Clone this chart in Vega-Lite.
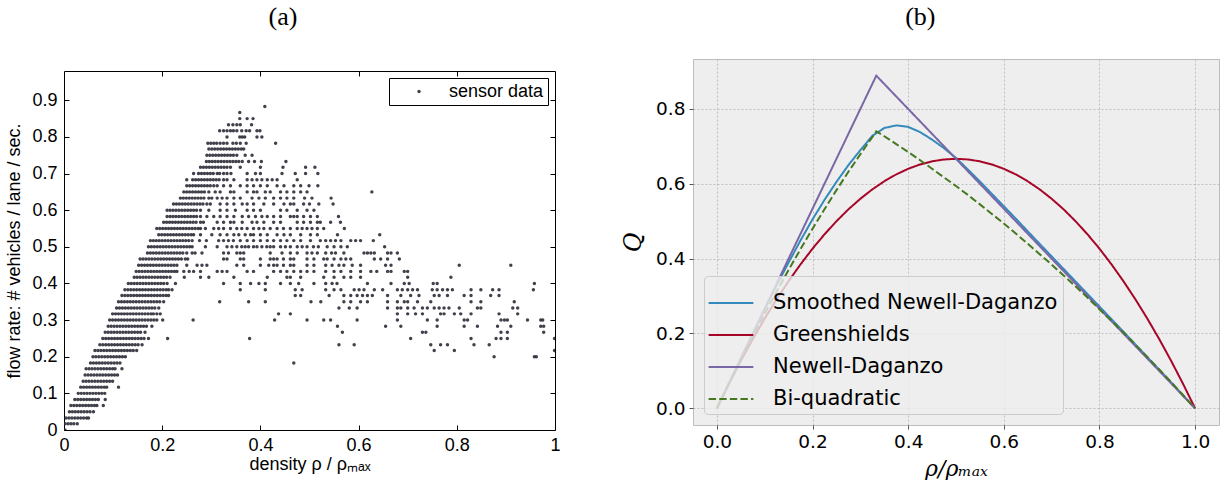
{
  "$schema": "https://vega.github.io/schema/vega-lite/v6.json",
  "background": "white",
  "padding": {"left": 5, "top": 3, "right": 4, "bottom": 0},
  "spacing": 60,
  "config": {"title": {"font": "Liberation Serif", "fontSize": 26, "fontWeight": "normal", "color": "#000"}},
  "resolve": {"scale": {"color": "independent", "strokeDash": "independent"}, "legend": {"color": "independent", "strokeDash": "independent"}},
  "datasets": {
    "sensor": [
      {"d":0.002,"q":0},
      {"d":0.002,"q":0.017},{"d":0.008,"q":0.017},{"d":0.014,"q":0.017},{"d":0.02,"q":0.017},{"d":0.027,"q":0.017},
      {"d":0.004,"q":0.033},{"d":0.01,"q":0.033},{"d":0.016,"q":0.033},{"d":0.022,"q":0.033},{"d":0.028,"q":0.033},{"d":0.034,"q":0.033},{"d":0.04,"q":0.033},{"d":0.046,"q":0.033},{"d":0.05,"q":0.033},
      {"d":0.011,"q":0.05},{"d":0.017,"q":0.05},{"d":0.023,"q":0.05},{"d":0.029,"q":0.05},{"d":0.035,"q":0.05},{"d":0.041,"q":0.05},{"d":0.047,"q":0.05},{"d":0.053,"q":0.05},{"d":0.06,"q":0.05},
      {"d":0.014,"q":0.067},{"d":0.02,"q":0.067},{"d":0.026,"q":0.067},{"d":0.032,"q":0.067},{"d":0.038,"q":0.067},{"d":0.044,"q":0.067},{"d":0.05,"q":0.067},{"d":0.056,"q":0.067},{"d":0.062,"q":0.067},{"d":0.067,"q":0.067},{"d":0.08,"q":0.067},
      {"d":0.022,"q":0.083},{"d":0.028,"q":0.083},{"d":0.034,"q":0.083},{"d":0.04,"q":0.083},{"d":0.046,"q":0.083},{"d":0.052,"q":0.083},{"d":0.058,"q":0.083},{"d":0.064,"q":0.083},{"d":0.07,"q":0.083},{"d":0.084,"q":0.083},
      {"d":0.029,"q":0.1},{"d":0.035,"q":0.1},{"d":0.041,"q":0.1},{"d":0.047,"q":0.1},{"d":0.053,"q":0.1},{"d":0.059,"q":0.1},{"d":0.065,"q":0.1},{"d":0.071,"q":0.1},{"d":0.077,"q":0.1},{"d":0.083,"q":0.1},
      {"d":0.034,"q":0.117},{"d":0.04,"q":0.117},{"d":0.046,"q":0.117},{"d":0.052,"q":0.117},{"d":0.058,"q":0.117},{"d":0.064,"q":0.117},{"d":0.07,"q":0.117},{"d":0.076,"q":0.117},{"d":0.082,"q":0.117},{"d":0.087,"q":0.117},{"d":0.111,"q":0.117},
      {"d":0.039,"q":0.133},{"d":0.045,"q":0.133},{"d":0.051,"q":0.133},{"d":0.057,"q":0.133},{"d":0.063,"q":0.133},{"d":0.069,"q":0.133},{"d":0.075,"q":0.133},{"d":0.081,"q":0.133},{"d":0.087,"q":0.133},{"d":0.093,"q":0.133},{"d":0.099,"q":0.133},
      {"d":0.043,"q":0.15},{"d":0.049,"q":0.15},{"d":0.055,"q":0.15},{"d":0.061,"q":0.15},{"d":0.067,"q":0.15},{"d":0.073,"q":0.15},{"d":0.079,"q":0.15},{"d":0.085,"q":0.15},{"d":0.091,"q":0.15},{"d":0.097,"q":0.15},{"d":0.103,"q":0.15},{"d":0.109,"q":0.15},
      {"d":0.045,"q":0.167},{"d":0.051,"q":0.167},{"d":0.057,"q":0.167},{"d":0.063,"q":0.167},{"d":0.069,"q":0.167},{"d":0.075,"q":0.167},{"d":0.081,"q":0.167},{"d":0.087,"q":0.167},{"d":0.093,"q":0.167},{"d":0.099,"q":0.167},{"d":0.104,"q":0.167},{"d":0.118,"q":0.167},
      {"d":0.054,"q":0.183},{"d":0.06,"q":0.183},{"d":0.066,"q":0.183},{"d":0.072,"q":0.183},{"d":0.078,"q":0.183},{"d":0.084,"q":0.183},{"d":0.09,"q":0.183},{"d":0.096,"q":0.183},{"d":0.102,"q":0.183},{"d":0.108,"q":0.183},{"d":0.114,"q":0.183},{"d":0.468,"q":0.183},
      {"d":0.059,"q":0.2},{"d":0.065,"q":0.2},{"d":0.071,"q":0.2},{"d":0.077,"q":0.2},{"d":0.083,"q":0.2},{"d":0.089,"q":0.2},{"d":0.095,"q":0.2},{"d":0.101,"q":0.2},{"d":0.107,"q":0.2},{"d":0.113,"q":0.2},{"d":0.119,"q":0.2},{"d":0.125,"q":0.2},{"d":0.876,"q":0.2},{"d":0.958,"q":0.2},{"d":0.962,"q":0.2},
      {"d":0.063,"q":0.217},{"d":0.069,"q":0.217},{"d":0.075,"q":0.217},{"d":0.081,"q":0.217},{"d":0.087,"q":0.217},{"d":0.093,"q":0.217},{"d":0.099,"q":0.217},{"d":0.105,"q":0.217},{"d":0.111,"q":0.217},{"d":0.117,"q":0.217},{"d":0.123,"q":0.217},{"d":0.129,"q":0.217},{"d":0.135,"q":0.217},{"d":0.141,"q":0.217},{"d":0.148,"q":0.217},{"d":0.754,"q":0.217},{"d":0.795,"q":0.217},{"d":0.999,"q":0.217},
      {"d":0.073,"q":0.233},{"d":0.079,"q":0.233},{"d":0.085,"q":0.233},{"d":0.091,"q":0.233},{"d":0.097,"q":0.233},{"d":0.103,"q":0.233},{"d":0.109,"q":0.233},{"d":0.115,"q":0.233},{"d":0.121,"q":0.233},{"d":0.127,"q":0.233},{"d":0.133,"q":0.233},{"d":0.139,"q":0.233},{"d":0.145,"q":0.233},{"d":0.151,"q":0.233},{"d":0.159,"q":0.233},{"d":0.56,"q":0.233},{"d":0.591,"q":0.233},{"d":0.747,"q":0.233},{"d":0.767,"q":0.233},{"d":0.781,"q":0.233},{"d":0.835,"q":0.233},{"d":0.866,"q":0.233},
      {"d":0.079,"q":0.25},{"d":0.085,"q":0.25},{"d":0.091,"q":0.25},{"d":0.097,"q":0.25},{"d":0.103,"q":0.25},{"d":0.109,"q":0.25},{"d":0.115,"q":0.25},{"d":0.121,"q":0.25},{"d":0.127,"q":0.25},{"d":0.133,"q":0.25},{"d":0.139,"q":0.25},{"d":0.145,"q":0.25},{"d":0.151,"q":0.25},{"d":0.157,"q":0.25},{"d":0.163,"q":0.25},{"d":0.172,"q":0.25},{"d":0.211,"q":0.25},{"d":0.378,"q":0.25},{"d":0.706,"q":0.25},{"d":0.829,"q":0.25},{"d":0.88,"q":0.25},{"d":0.89,"q":0.25},{"d":0.903,"q":0.25},{"d":0.999,"q":0.25},
      {"d":0.084,"q":0.267},{"d":0.09,"q":0.267},{"d":0.096,"q":0.267},{"d":0.102,"q":0.267},{"d":0.108,"q":0.267},{"d":0.114,"q":0.267},{"d":0.12,"q":0.267},{"d":0.126,"q":0.267},{"d":0.132,"q":0.267},{"d":0.138,"q":0.267},{"d":0.144,"q":0.267},{"d":0.15,"q":0.267},{"d":0.156,"q":0.267},{"d":0.165,"q":0.267},{"d":0.567,"q":0.267},{"d":0.73,"q":0.267},{"d":0.737,"q":0.267},{"d":0.89,"q":0.267},{"d":0.903,"q":0.267},{"d":0.977,"q":0.267},
      {"d":0.09,"q":0.283},{"d":0.096,"q":0.283},{"d":0.102,"q":0.283},{"d":0.108,"q":0.283},{"d":0.114,"q":0.283},{"d":0.12,"q":0.283},{"d":0.126,"q":0.283},{"d":0.132,"q":0.283},{"d":0.138,"q":0.283},{"d":0.144,"q":0.283},{"d":0.15,"q":0.283},{"d":0.156,"q":0.283},{"d":0.162,"q":0.283},{"d":0.168,"q":0.283},{"d":0.179,"q":0.283},{"d":0.557,"q":0.283},{"d":0.655,"q":0.283},{"d":0.686,"q":0.283},{"d":0.76,"q":0.283},{"d":0.815,"q":0.283},{"d":0.842,"q":0.283},{"d":0.883,"q":0.283},{"d":0.91,"q":0.283},{"d":0.971,"q":0.283},{"d":0.977,"q":0.283},
      {"d":0.093,"q":0.3},{"d":0.099,"q":0.3},{"d":0.105,"q":0.3},{"d":0.111,"q":0.3},{"d":0.117,"q":0.3},{"d":0.123,"q":0.3},{"d":0.129,"q":0.3},{"d":0.135,"q":0.3},{"d":0.141,"q":0.3},{"d":0.147,"q":0.3},{"d":0.153,"q":0.3},{"d":0.159,"q":0.3},{"d":0.165,"q":0.3},{"d":0.171,"q":0.3},{"d":0.177,"q":0.3},{"d":0.183,"q":0.3},{"d":0.189,"q":0.3},{"d":0.201,"q":0.3},{"d":0.263,"q":0.3},{"d":0.429,"q":0.3},{"d":0.495,"q":0.3},{"d":0.529,"q":0.3},{"d":0.543,"q":0.3},{"d":0.597,"q":0.3},{"d":0.679,"q":0.3},{"d":0.74,"q":0.3},{"d":0.76,"q":0.3},{"d":0.815,"q":0.3},{"d":0.822,"q":0.3},{"d":0.89,"q":0.3},{"d":0.897,"q":0.3},{"d":0.903,"q":0.3},{"d":0.944,"q":0.3},{"d":0.971,"q":0.3},{"d":0.975,"q":0.3},
      {"d":0.099,"q":0.317},{"d":0.105,"q":0.317},{"d":0.111,"q":0.317},{"d":0.117,"q":0.317},{"d":0.123,"q":0.317},{"d":0.129,"q":0.317},{"d":0.135,"q":0.317},{"d":0.141,"q":0.317},{"d":0.147,"q":0.317},{"d":0.153,"q":0.317},{"d":0.159,"q":0.317},{"d":0.165,"q":0.317},{"d":0.171,"q":0.317},{"d":0.177,"q":0.317},{"d":0.182,"q":0.317},{"d":0.189,"q":0.317},{"d":0.196,"q":0.317},{"d":0.437,"q":0.317},{"d":0.461,"q":0.317},{"d":0.679,"q":0.317},{"d":0.7,"q":0.317},{"d":0.716,"q":0.317},{"d":0.73,"q":0.317},{"d":0.767,"q":0.317},{"d":0.774,"q":0.317},{"d":0.795,"q":0.317},{"d":0.808,"q":0.317},{"d":0.829,"q":0.317},{"d":0.886,"q":0.317},{"d":0.924,"q":0.317},
      {"d":0.107,"q":0.333},{"d":0.113,"q":0.333},{"d":0.119,"q":0.333},{"d":0.125,"q":0.333},{"d":0.131,"q":0.333},{"d":0.137,"q":0.333},{"d":0.143,"q":0.333},{"d":0.149,"q":0.333},{"d":0.155,"q":0.333},{"d":0.161,"q":0.333},{"d":0.167,"q":0.333},{"d":0.173,"q":0.333},{"d":0.179,"q":0.333},{"d":0.185,"q":0.333},{"d":0.193,"q":0.333},{"d":0.56,"q":0.333},{"d":0.581,"q":0.333},{"d":0.597,"q":0.333},{"d":0.659,"q":0.333},{"d":0.679,"q":0.333},{"d":0.686,"q":0.333},{"d":0.7,"q":0.333},{"d":0.713,"q":0.333},{"d":0.73,"q":0.333},{"d":0.74,"q":0.333},{"d":0.754,"q":0.333},{"d":0.764,"q":0.333},{"d":0.774,"q":0.333},{"d":0.784,"q":0.333},{"d":0.805,"q":0.333},{"d":0.842,"q":0.333},{"d":0.849,"q":0.333},{"d":0.914,"q":0.333},{"d":0.924,"q":0.333},
      {"d":0.111,"q":0.35},{"d":0.117,"q":0.35},{"d":0.123,"q":0.35},{"d":0.129,"q":0.35},{"d":0.135,"q":0.35},{"d":0.141,"q":0.35},{"d":0.147,"q":0.35},{"d":0.153,"q":0.35},{"d":0.159,"q":0.35},{"d":0.165,"q":0.35},{"d":0.171,"q":0.35},{"d":0.177,"q":0.35},{"d":0.183,"q":0.35},{"d":0.189,"q":0.35},{"d":0.195,"q":0.35},{"d":0.203,"q":0.35},{"d":0.317,"q":0.35},{"d":0.376,"q":0.35},{"d":0.41,"q":0.35},{"d":0.503,"q":0.35},{"d":0.523,"q":0.35},{"d":0.57,"q":0.35},{"d":0.584,"q":0.35},{"d":0.604,"q":0.35},{"d":0.618,"q":0.35},{"d":0.659,"q":0.35},{"d":0.679,"q":0.35},{"d":0.693,"q":0.35},{"d":0.7,"q":0.35},{"d":0.72,"q":0.35},{"d":0.747,"q":0.35},{"d":0.829,"q":0.35},{"d":0.849,"q":0.35},{"d":0.917,"q":0.35},
      {"d":0.118,"q":0.367},{"d":0.124,"q":0.367},{"d":0.13,"q":0.367},{"d":0.136,"q":0.367},{"d":0.142,"q":0.367},{"d":0.148,"q":0.367},{"d":0.154,"q":0.367},{"d":0.16,"q":0.367},{"d":0.166,"q":0.367},{"d":0.172,"q":0.367},{"d":0.178,"q":0.367},{"d":0.184,"q":0.367},{"d":0.19,"q":0.367},{"d":0.196,"q":0.367},{"d":0.202,"q":0.367},{"d":0.208,"q":0.367},{"d":0.213,"q":0.367},{"d":0.471,"q":0.367},{"d":0.482,"q":0.367},{"d":0.54,"q":0.367},{"d":0.57,"q":0.367},{"d":0.584,"q":0.367},{"d":0.597,"q":0.367},{"d":0.608,"q":0.367},{"d":0.618,"q":0.367},{"d":0.628,"q":0.367},{"d":0.659,"q":0.367},{"d":0.686,"q":0.367},{"d":0.706,"q":0.367},{"d":0.723,"q":0.367},{"d":0.754,"q":0.367},{"d":0.764,"q":0.367},{"d":0.781,"q":0.367},{"d":0.815,"q":0.367},{"d":0.829,"q":0.367},{"d":0.869,"q":0.367},{"d":0.886,"q":0.367},
      {"d":0.124,"q":0.383},{"d":0.13,"q":0.383},{"d":0.136,"q":0.383},{"d":0.142,"q":0.383},{"d":0.148,"q":0.383},{"d":0.154,"q":0.383},{"d":0.16,"q":0.383},{"d":0.166,"q":0.383},{"d":0.172,"q":0.383},{"d":0.178,"q":0.383},{"d":0.184,"q":0.383},{"d":0.19,"q":0.383},{"d":0.196,"q":0.383},{"d":0.202,"q":0.383},{"d":0.208,"q":0.383},{"d":0.213,"q":0.383},{"d":0.22,"q":0.383},{"d":0.359,"q":0.383},{"d":0.41,"q":0.383},{"d":0.471,"q":0.383},{"d":0.485,"q":0.383},{"d":0.533,"q":0.383},{"d":0.55,"q":0.383},{"d":0.564,"q":0.383},{"d":0.591,"q":0.383},{"d":0.601,"q":0.383},{"d":0.611,"q":0.383},{"d":0.632,"q":0.383},{"d":0.649,"q":0.383},{"d":0.679,"q":0.383},{"d":0.689,"q":0.383},{"d":0.7,"q":0.383},{"d":0.71,"q":0.383},{"d":0.72,"q":0.383},{"d":0.75,"q":0.383},{"d":0.76,"q":0.383},{"d":0.771,"q":0.383},{"d":0.781,"q":0.383},{"d":0.791,"q":0.383},{"d":0.829,"q":0.383},{"d":0.849,"q":0.383},{"d":0.873,"q":0.383},{"d":0.886,"q":0.383},{"d":0.956,"q":0.383},
      {"d":0.131,"q":0.4},{"d":0.137,"q":0.4},{"d":0.143,"q":0.4},{"d":0.149,"q":0.4},{"d":0.155,"q":0.4},{"d":0.161,"q":0.4},{"d":0.167,"q":0.4},{"d":0.173,"q":0.4},{"d":0.179,"q":0.4},{"d":0.185,"q":0.4},{"d":0.191,"q":0.4},{"d":0.197,"q":0.4},{"d":0.203,"q":0.4},{"d":0.21,"q":0.4},{"d":0.227,"q":0.4},{"d":0.325,"q":0.4},{"d":0.359,"q":0.4},{"d":0.38,"q":0.4},{"d":0.397,"q":0.4},{"d":0.41,"q":0.4},{"d":0.441,"q":0.4},{"d":0.461,"q":0.4},{"d":0.478,"q":0.4},{"d":0.509,"q":0.4},{"d":0.533,"q":0.4},{"d":0.546,"q":0.4},{"d":0.556,"q":0.4},{"d":0.618,"q":0.4},{"d":0.666,"q":0.4},{"d":0.693,"q":0.4},{"d":0.703,"q":0.4},{"d":0.752,"q":0.4},{"d":0.76,"q":0.4},{"d":0.958,"q":0.4},
      {"d":0.143,"q":0.417},{"d":0.149,"q":0.417},{"d":0.155,"q":0.417},{"d":0.161,"q":0.417},{"d":0.167,"q":0.417},{"d":0.173,"q":0.417},{"d":0.179,"q":0.417},{"d":0.185,"q":0.417},{"d":0.191,"q":0.417},{"d":0.197,"q":0.417},{"d":0.203,"q":0.417},{"d":0.209,"q":0.417},{"d":0.216,"q":0.417},{"d":0.245,"q":0.417},{"d":0.278,"q":0.417},{"d":0.295,"q":0.417},{"d":0.346,"q":0.417},{"d":0.414,"q":0.417},{"d":0.454,"q":0.417},{"d":0.461,"q":0.417},{"d":0.482,"q":0.417},{"d":0.529,"q":0.417},{"d":0.55,"q":0.417},{"d":0.57,"q":0.417},{"d":0.584,"q":0.417},{"d":0.604,"q":0.417},{"d":0.7,"q":0.417},{"d":0.788,"q":0.417},
      {"d":0.147,"q":0.433},{"d":0.153,"q":0.433},{"d":0.159,"q":0.433},{"d":0.165,"q":0.433},{"d":0.171,"q":0.433},{"d":0.177,"q":0.433},{"d":0.183,"q":0.433},{"d":0.189,"q":0.433},{"d":0.195,"q":0.433},{"d":0.201,"q":0.433},{"d":0.207,"q":0.433},{"d":0.213,"q":0.433},{"d":0.219,"q":0.433},{"d":0.225,"q":0.433},{"d":0.23,"q":0.433},{"d":0.244,"q":0.433},{"d":0.255,"q":0.433},{"d":0.264,"q":0.433},{"d":0.278,"q":0.433},{"d":0.312,"q":0.433},{"d":0.322,"q":0.433},{"d":0.332,"q":0.433},{"d":0.373,"q":0.433},{"d":0.386,"q":0.433},{"d":0.427,"q":0.433},{"d":0.441,"q":0.433},{"d":0.454,"q":0.433},{"d":0.468,"q":0.433},{"d":0.482,"q":0.433},{"d":0.495,"q":0.433},{"d":0.509,"q":0.433},{"d":0.533,"q":0.433},{"d":0.55,"q":0.433},{"d":0.564,"q":0.433},{"d":0.584,"q":0.433},{"d":0.604,"q":0.433},{"d":0.625,"q":0.433},{"d":0.637,"q":0.433},{"d":0.659,"q":0.433},{"d":0.666,"q":0.433},{"d":0.693,"q":0.433},{"d":0.7,"q":0.433},
      {"d":0.152,"q":0.45},{"d":0.158,"q":0.45},{"d":0.164,"q":0.45},{"d":0.17,"q":0.45},{"d":0.176,"q":0.45},{"d":0.182,"q":0.45},{"d":0.188,"q":0.45},{"d":0.194,"q":0.45},{"d":0.2,"q":0.45},{"d":0.206,"q":0.45},{"d":0.212,"q":0.45},{"d":0.218,"q":0.45},{"d":0.224,"q":0.45},{"d":0.23,"q":0.45},{"d":0.25,"q":0.45},{"d":0.271,"q":0.45},{"d":0.281,"q":0.45},{"d":0.291,"q":0.45},{"d":0.352,"q":0.45},{"d":0.366,"q":0.45},{"d":0.4,"q":0.45},{"d":0.417,"q":0.45},{"d":0.427,"q":0.45},{"d":0.434,"q":0.45},{"d":0.447,"q":0.45},{"d":0.461,"q":0.45},{"d":0.468,"q":0.45},{"d":0.495,"q":0.45},{"d":0.509,"q":0.45},{"d":0.533,"q":0.45},{"d":0.546,"q":0.45},{"d":0.56,"q":0.45},{"d":0.57,"q":0.45},{"d":0.587,"q":0.45},{"d":0.604,"q":0.45},{"d":0.655,"q":0.45},{"d":0.666,"q":0.45},{"d":0.805,"q":0.45},{"d":0.91,"q":0.45},
      {"d":0.155,"q":0.467},{"d":0.161,"q":0.467},{"d":0.167,"q":0.467},{"d":0.173,"q":0.467},{"d":0.179,"q":0.467},{"d":0.185,"q":0.467},{"d":0.191,"q":0.467},{"d":0.197,"q":0.467},{"d":0.203,"q":0.467},{"d":0.209,"q":0.467},{"d":0.215,"q":0.467},{"d":0.221,"q":0.467},{"d":0.227,"q":0.467},{"d":0.233,"q":0.467},{"d":0.239,"q":0.467},{"d":0.247,"q":0.467},{"d":0.252,"q":0.467},{"d":0.325,"q":0.467},{"d":0.332,"q":0.467},{"d":0.359,"q":0.467},{"d":0.366,"q":0.467},{"d":0.4,"q":0.467},{"d":0.42,"q":0.467},{"d":0.427,"q":0.467},{"d":0.434,"q":0.467},{"d":0.447,"q":0.467},{"d":0.461,"q":0.467},{"d":0.468,"q":0.467},{"d":0.495,"q":0.467},{"d":0.509,"q":0.467},{"d":0.529,"q":0.467},{"d":0.536,"q":0.467},{"d":0.55,"q":0.467},{"d":0.564,"q":0.467},{"d":0.574,"q":0.467},{"d":0.584,"q":0.467},{"d":0.632,"q":0.467},{"d":0.645,"q":0.467},{"d":0.659,"q":0.467},{"d":0.683,"q":0.467},
      {"d":0.17,"q":0.483},{"d":0.176,"q":0.483},{"d":0.182,"q":0.483},{"d":0.188,"q":0.483},{"d":0.194,"q":0.483},{"d":0.2,"q":0.483},{"d":0.206,"q":0.483},{"d":0.212,"q":0.483},{"d":0.218,"q":0.483},{"d":0.224,"q":0.483},{"d":0.23,"q":0.483},{"d":0.236,"q":0.483},{"d":0.242,"q":0.483},{"d":0.25,"q":0.483},{"d":0.261,"q":0.483},{"d":0.267,"q":0.483},{"d":0.281,"q":0.483},{"d":0.325,"q":0.483},{"d":0.335,"q":0.483},{"d":0.352,"q":0.483},{"d":0.359,"q":0.483},{"d":0.366,"q":0.483},{"d":0.42,"q":0.483},{"d":0.444,"q":0.483},{"d":0.461,"q":0.483},{"d":0.475,"q":0.483},{"d":0.495,"q":0.483},{"d":0.505,"q":0.483},{"d":0.516,"q":0.483},{"d":0.533,"q":0.483},{"d":0.545,"q":0.483},{"d":0.553,"q":0.483},{"d":0.57,"q":0.483},{"d":0.611,"q":0.483},{"d":0.618,"q":0.483},{"d":0.625,"q":0.483},{"d":0.632,"q":0.483},{"d":0.659,"q":0.483},{"d":0.666,"q":0.483},{"d":0.679,"q":0.483},
      {"d":0.172,"q":0.5},{"d":0.178,"q":0.5},{"d":0.184,"q":0.5},{"d":0.19,"q":0.5},{"d":0.196,"q":0.5},{"d":0.202,"q":0.5},{"d":0.208,"q":0.5},{"d":0.214,"q":0.5},{"d":0.22,"q":0.5},{"d":0.226,"q":0.5},{"d":0.232,"q":0.5},{"d":0.238,"q":0.5},{"d":0.244,"q":0.5},{"d":0.25,"q":0.5},{"d":0.256,"q":0.5},{"d":0.261,"q":0.5},{"d":0.288,"q":0.5},{"d":0.312,"q":0.5},{"d":0.332,"q":0.5},{"d":0.342,"q":0.5},{"d":0.352,"q":0.5},{"d":0.362,"q":0.5},{"d":0.369,"q":0.5},{"d":0.376,"q":0.5},{"d":0.386,"q":0.5},{"d":0.393,"q":0.5},{"d":0.403,"q":0.5},{"d":0.413,"q":0.5},{"d":0.42,"q":0.5},{"d":0.427,"q":0.5},{"d":0.441,"q":0.5},{"d":0.451,"q":0.5},{"d":0.461,"q":0.5},{"d":0.475,"q":0.5},{"d":0.485,"q":0.5},{"d":0.495,"q":0.5},{"d":0.508,"q":0.5},{"d":0.518,"q":0.5},{"d":0.536,"q":0.5},{"d":0.55,"q":0.5},{"d":0.564,"q":0.5},{"d":0.577,"q":0.5},{"d":0.653,"q":0.5},
      {"d":0.176,"q":0.517},{"d":0.182,"q":0.517},{"d":0.188,"q":0.517},{"d":0.194,"q":0.517},{"d":0.2,"q":0.517},{"d":0.206,"q":0.517},{"d":0.212,"q":0.517},{"d":0.218,"q":0.517},{"d":0.224,"q":0.517},{"d":0.23,"q":0.517},{"d":0.236,"q":0.517},{"d":0.242,"q":0.517},{"d":0.248,"q":0.517},{"d":0.254,"q":0.517},{"d":0.261,"q":0.517},{"d":0.276,"q":0.517},{"d":0.29,"q":0.517},{"d":0.315,"q":0.517},{"d":0.325,"q":0.517},{"d":0.335,"q":0.517},{"d":0.345,"q":0.517},{"d":0.359,"q":0.517},{"d":0.373,"q":0.517},{"d":0.386,"q":0.517},{"d":0.4,"q":0.517},{"d":0.414,"q":0.517},{"d":0.427,"q":0.517},{"d":0.441,"q":0.517},{"d":0.454,"q":0.517},{"d":0.468,"q":0.517},{"d":0.482,"q":0.517},{"d":0.502,"q":0.517},{"d":0.522,"q":0.517},{"d":0.533,"q":0.517},{"d":0.543,"q":0.517},{"d":0.553,"q":0.517},{"d":0.564,"q":0.517},{"d":0.584,"q":0.517},{"d":0.594,"q":0.517},{"d":0.604,"q":0.517},{"d":0.63,"q":0.517},
      {"d":0.193,"q":0.533},{"d":0.199,"q":0.533},{"d":0.205,"q":0.533},{"d":0.211,"q":0.533},{"d":0.217,"q":0.533},{"d":0.223,"q":0.533},{"d":0.229,"q":0.533},{"d":0.235,"q":0.533},{"d":0.241,"q":0.533},{"d":0.247,"q":0.533},{"d":0.253,"q":0.533},{"d":0.259,"q":0.533},{"d":0.264,"q":0.533},{"d":0.278,"q":0.533},{"d":0.301,"q":0.533},{"d":0.318,"q":0.533},{"d":0.332,"q":0.533},{"d":0.346,"q":0.533},{"d":0.356,"q":0.533},{"d":0.369,"q":0.533},{"d":0.38,"q":0.533},{"d":0.386,"q":0.533},{"d":0.4,"q":0.533},{"d":0.414,"q":0.533},{"d":0.434,"q":0.533},{"d":0.448,"q":0.533},{"d":0.461,"q":0.533},{"d":0.482,"q":0.533},{"d":0.502,"q":0.533},{"d":0.516,"q":0.533},{"d":0.557,"q":0.533},{"d":0.643,"q":0.533},
      {"d":0.189,"q":0.55},{"d":0.195,"q":0.55},{"d":0.201,"q":0.55},{"d":0.207,"q":0.55},{"d":0.213,"q":0.55},{"d":0.219,"q":0.55},{"d":0.225,"q":0.55},{"d":0.231,"q":0.55},{"d":0.237,"q":0.55},{"d":0.243,"q":0.55},{"d":0.249,"q":0.55},{"d":0.255,"q":0.55},{"d":0.261,"q":0.55},{"d":0.267,"q":0.55},{"d":0.273,"q":0.55},{"d":0.278,"q":0.55},{"d":0.288,"q":0.55},{"d":0.305,"q":0.55},{"d":0.315,"q":0.55},{"d":0.325,"q":0.55},{"d":0.339,"q":0.55},{"d":0.352,"q":0.55},{"d":0.362,"q":0.55},{"d":0.373,"q":0.55},{"d":0.386,"q":0.55},{"d":0.397,"q":0.55},{"d":0.407,"q":0.55},{"d":0.42,"q":0.55},{"d":0.434,"q":0.55},{"d":0.447,"q":0.55},{"d":0.461,"q":0.55},{"d":0.475,"q":0.55},{"d":0.485,"q":0.55},{"d":0.495,"q":0.55},{"d":0.505,"q":0.55},{"d":0.516,"q":0.55},{"d":0.529,"q":0.55},{"d":0.571,"q":0.55},
      {"d":0.203,"q":0.567},{"d":0.209,"q":0.567},{"d":0.215,"q":0.567},{"d":0.221,"q":0.567},{"d":0.227,"q":0.567},{"d":0.233,"q":0.567},{"d":0.239,"q":0.567},{"d":0.245,"q":0.567},{"d":0.251,"q":0.567},{"d":0.257,"q":0.567},{"d":0.263,"q":0.567},{"d":0.269,"q":0.567},{"d":0.278,"q":0.567},{"d":0.284,"q":0.567},{"d":0.312,"q":0.567},{"d":0.325,"q":0.567},{"d":0.339,"q":0.567},{"d":0.346,"q":0.567},{"d":0.363,"q":0.567},{"d":0.383,"q":0.567},{"d":0.393,"q":0.567},{"d":0.407,"q":0.567},{"d":0.427,"q":0.567},{"d":0.441,"q":0.567},{"d":0.475,"q":0.567},{"d":0.488,"q":0.567},{"d":0.502,"q":0.567},{"d":0.516,"q":0.567},{"d":0.522,"q":0.567},{"d":0.543,"q":0.567},{"d":0.563,"q":0.567},
      {"d":0.21,"q":0.583},{"d":0.216,"q":0.583},{"d":0.222,"q":0.583},{"d":0.228,"q":0.583},{"d":0.234,"q":0.583},{"d":0.24,"q":0.583},{"d":0.246,"q":0.583},{"d":0.252,"q":0.583},{"d":0.258,"q":0.583},{"d":0.264,"q":0.583},{"d":0.27,"q":0.583},{"d":0.278,"q":0.583},{"d":0.291,"q":0.583},{"d":0.305,"q":0.583},{"d":0.318,"q":0.583},{"d":0.332,"q":0.583},{"d":0.346,"q":0.583},{"d":0.363,"q":0.583},{"d":0.376,"q":0.583},{"d":0.39,"q":0.583},{"d":0.403,"q":0.583},{"d":0.414,"q":0.583},{"d":0.427,"q":0.583},{"d":0.441,"q":0.583},{"d":0.461,"q":0.583},{"d":0.468,"q":0.583},{"d":0.475,"q":0.583},{"d":0.488,"q":0.583},{"d":0.502,"q":0.583},{"d":0.516,"q":0.583},{"d":0.559,"q":0.583},
      {"d":0.21,"q":0.6},{"d":0.216,"q":0.6},{"d":0.222,"q":0.6},{"d":0.228,"q":0.6},{"d":0.234,"q":0.6},{"d":0.24,"q":0.6},{"d":0.246,"q":0.6},{"d":0.252,"q":0.6},{"d":0.258,"q":0.6},{"d":0.264,"q":0.6},{"d":0.27,"q":0.6},{"d":0.278,"q":0.6},{"d":0.295,"q":0.6},{"d":0.318,"q":0.6},{"d":0.332,"q":0.6},{"d":0.349,"q":0.6},{"d":0.373,"q":0.6},{"d":0.386,"q":0.6},{"d":0.4,"q":0.6},{"d":0.441,"q":0.6},{"d":0.454,"q":0.6},{"d":0.475,"q":0.6},{"d":0.495,"q":0.6},{"d":0.509,"q":0.6},
      {"d":0.223,"q":0.617},{"d":0.229,"q":0.617},{"d":0.235,"q":0.617},{"d":0.241,"q":0.617},{"d":0.247,"q":0.617},{"d":0.253,"q":0.617},{"d":0.259,"q":0.617},{"d":0.265,"q":0.617},{"d":0.271,"q":0.617},{"d":0.277,"q":0.617},{"d":0.283,"q":0.617},{"d":0.291,"q":0.617},{"d":0.298,"q":0.617},{"d":0.318,"q":0.617},{"d":0.332,"q":0.617},{"d":0.346,"q":0.617},{"d":0.363,"q":0.617},{"d":0.373,"q":0.617},{"d":0.386,"q":0.617},{"d":0.407,"q":0.617},{"d":0.427,"q":0.617},{"d":0.448,"q":0.617},{"d":0.461,"q":0.617},{"d":0.468,"q":0.617},{"d":0.488,"q":0.617},{"d":0.5,"q":0.617},{"d":0.519,"q":0.617},{"d":0.548,"q":0.617},
      {"d":0.237,"q":0.633},{"d":0.243,"q":0.633},{"d":0.249,"q":0.633},{"d":0.255,"q":0.633},{"d":0.261,"q":0.633},{"d":0.267,"q":0.633},{"d":0.273,"q":0.633},{"d":0.279,"q":0.633},{"d":0.285,"q":0.633},{"d":0.295,"q":0.633},{"d":0.301,"q":0.633},{"d":0.312,"q":0.633},{"d":0.322,"q":0.633},{"d":0.332,"q":0.633},{"d":0.346,"q":0.633},{"d":0.359,"q":0.633},{"d":0.383,"q":0.633},{"d":0.397,"q":0.633},{"d":0.41,"q":0.633},{"d":0.427,"q":0.633},{"d":0.441,"q":0.633},{"d":0.454,"q":0.633},{"d":0.468,"q":0.633},{"d":0.49,"q":0.633},{"d":0.505,"q":0.633},{"d":0.544,"q":0.633},
      {"d":0.244,"q":0.65},{"d":0.25,"q":0.65},{"d":0.256,"q":0.65},{"d":0.262,"q":0.65},{"d":0.268,"q":0.65},{"d":0.274,"q":0.65},{"d":0.28,"q":0.65},{"d":0.286,"q":0.65},{"d":0.295,"q":0.65},{"d":0.308,"q":0.65},{"d":0.318,"q":0.65},{"d":0.339,"q":0.65},{"d":0.346,"q":0.65},{"d":0.373,"q":0.65},{"d":0.386,"q":0.65},{"d":0.393,"q":0.65},{"d":0.41,"q":0.65},{"d":0.42,"q":0.65},{"d":0.441,"q":0.65},{"d":0.454,"q":0.65},{"d":0.468,"q":0.65},{"d":0.482,"q":0.65},{"d":0.495,"q":0.65},{"d":0.627,"q":0.65},
      {"d":0.25,"q":0.667},{"d":0.256,"q":0.667},{"d":0.262,"q":0.667},{"d":0.268,"q":0.667},{"d":0.274,"q":0.667},{"d":0.28,"q":0.667},{"d":0.286,"q":0.667},{"d":0.292,"q":0.667},{"d":0.298,"q":0.667},{"d":0.305,"q":0.667},{"d":0.312,"q":0.667},{"d":0.325,"q":0.667},{"d":0.339,"q":0.667},{"d":0.359,"q":0.667},{"d":0.373,"q":0.667},{"d":0.386,"q":0.667},{"d":0.4,"q":0.667},{"d":0.414,"q":0.667},{"d":0.434,"q":0.667},{"d":0.448,"q":0.667},{"d":0.468,"q":0.667},{"d":0.482,"q":0.667},{"d":0.499,"q":0.667},{"d":0.517,"q":0.667},
      {"d":0.25,"q":0.683},{"d":0.262,"q":0.683},{"d":0.268,"q":0.683},{"d":0.274,"q":0.683},{"d":0.28,"q":0.683},{"d":0.286,"q":0.683},{"d":0.292,"q":0.683},{"d":0.298,"q":0.683},{"d":0.304,"q":0.683},{"d":0.31,"q":0.683},{"d":0.316,"q":0.683},{"d":0.325,"q":0.683},{"d":0.332,"q":0.683},{"d":0.346,"q":0.683},{"d":0.373,"q":0.683},{"d":0.383,"q":0.683},{"d":0.393,"q":0.683},{"d":0.403,"q":0.683},{"d":0.414,"q":0.683},{"d":0.424,"q":0.683},{"d":0.434,"q":0.683},{"d":0.475,"q":0.683},
      {"d":0.264,"q":0.7},{"d":0.274,"q":0.7},{"d":0.28,"q":0.7},{"d":0.286,"q":0.7},{"d":0.292,"q":0.7},{"d":0.298,"q":0.7},{"d":0.304,"q":0.7},{"d":0.312,"q":0.7},{"d":0.317,"q":0.7},{"d":0.325,"q":0.7},{"d":0.332,"q":0.7},{"d":0.34,"q":0.7},{"d":0.373,"q":0.7},{"d":0.39,"q":0.7},{"d":0.4,"q":0.7},{"d":0.444,"q":0.7},{"d":0.471,"q":0.7},{"d":0.492,"q":0.7},{"d":0.517,"q":0.7},
      {"d":0.278,"q":0.717},{"d":0.284,"q":0.717},{"d":0.29,"q":0.717},{"d":0.296,"q":0.717},{"d":0.302,"q":0.717},{"d":0.308,"q":0.717},{"d":0.314,"q":0.717},{"d":0.32,"q":0.717},{"d":0.326,"q":0.717},{"d":0.332,"q":0.717},{"d":0.339,"q":0.717},{"d":0.359,"q":0.717},{"d":0.4,"q":0.717},{"d":0.446,"q":0.717},{"d":0.492,"q":0.717},{"d":0.511,"q":0.717},
      {"d":0.29,"q":0.733},{"d":0.296,"q":0.733},{"d":0.302,"q":0.733},{"d":0.308,"q":0.733},{"d":0.314,"q":0.733},{"d":0.32,"q":0.733},{"d":0.326,"q":0.733},{"d":0.332,"q":0.733},{"d":0.338,"q":0.733},{"d":0.344,"q":0.733},{"d":0.35,"q":0.733},{"d":0.356,"q":0.733},{"d":0.363,"q":0.733},{"d":0.376,"q":0.733},{"d":0.388,"q":0.733},{"d":0.402,"q":0.733},{"d":0.452,"q":0.733},
      {"d":0.291,"q":0.75},{"d":0.297,"q":0.75},{"d":0.303,"q":0.75},{"d":0.309,"q":0.75},{"d":0.315,"q":0.75},{"d":0.321,"q":0.75},{"d":0.327,"q":0.75},{"d":0.333,"q":0.75},{"d":0.339,"q":0.75},{"d":0.345,"q":0.75},{"d":0.352,"q":0.75},{"d":0.369,"q":0.75},{"d":0.383,"q":0.75},
      {"d":0.295,"q":0.767},{"d":0.301,"q":0.767},{"d":0.307,"q":0.767},{"d":0.313,"q":0.767},{"d":0.319,"q":0.767},{"d":0.325,"q":0.767},{"d":0.331,"q":0.767},{"d":0.337,"q":0.767},{"d":0.343,"q":0.767},{"d":0.349,"q":0.767},{"d":0.355,"q":0.767},{"d":0.361,"q":0.767},{"d":0.366,"q":0.767},
      {"d":0.293,"q":0.783},{"d":0.299,"q":0.783},{"d":0.305,"q":0.783},{"d":0.311,"q":0.783},{"d":0.318,"q":0.783},{"d":0.325,"q":0.783},{"d":0.332,"q":0.783},{"d":0.344,"q":0.783},{"d":0.351,"q":0.783},{"d":0.359,"q":0.783},{"d":0.371,"q":0.783},{"d":0.431,"q":0.783},
      {"d":0.332,"q":0.8},{"d":0.358,"q":0.8},{"d":0.363,"q":0.8},{"d":0.368,"q":0.8},{"d":0.393,"q":0.8},{"d":0.403,"q":0.8},
      {"d":0.317,"q":0.817},{"d":0.325,"q":0.817},{"d":0.332,"q":0.817},{"d":0.339,"q":0.817},{"d":0.345,"q":0.817},{"d":0.352,"q":0.817},{"d":0.362,"q":0.817},{"d":0.371,"q":0.817},{"d":0.378,"q":0.817},{"d":0.393,"q":0.817},{"d":0.399,"q":0.817},
      {"d":0.335,"q":0.833},{"d":0.344,"q":0.833},{"d":0.352,"q":0.833},{"d":0.359,"q":0.833},{"d":0.382,"q":0.833},
      {"d":0.358,"q":0.85},{"d":0.373,"q":0.85},{"d":0.385,"q":0.85},
      {"d":0.358,"q":0.867},
      {"d":0.409,"q":0.883}
    ],
    "curves": [
      {"model":"Smoothed Newell-Daganzo","r":0,"Q":0},{"model":"Smoothed Newell-Daganzo","r":0.025,"Q":0.0667},{"model":"Smoothed Newell-Daganzo","r":0.05,"Q":0.133},{"model":"Smoothed Newell-Daganzo","r":0.075,"Q":0.199},{"model":"Smoothed Newell-Daganzo","r":0.1,"Q":0.265},{"model":"Smoothed Newell-Daganzo","r":0.125,"Q":0.329},{"model":"Smoothed Newell-Daganzo","r":0.15,"Q":0.39},{"model":"Smoothed Newell-Daganzo","r":0.175,"Q":0.449},{"model":"Smoothed Newell-Daganzo","r":0.2,"Q":0.505},{"model":"Smoothed Newell-Daganzo","r":0.225,"Q":0.557},{"model":"Smoothed Newell-Daganzo","r":0.25,"Q":0.605},{"model":"Smoothed Newell-Daganzo","r":0.275,"Q":0.65},{"model":"Smoothed Newell-Daganzo","r":0.3,"Q":0.69},{"model":"Smoothed Newell-Daganzo","r":0.325,"Q":0.728},{"model":"Smoothed Newell-Daganzo","r":0.35,"Q":0.749},{"model":"Smoothed Newell-Daganzo","r":0.375,"Q":0.756},{"model":"Smoothed Newell-Daganzo","r":0.4,"Q":0.752},{"model":"Smoothed Newell-Daganzo","r":0.425,"Q":0.738},{"model":"Smoothed Newell-Daganzo","r":0.45,"Q":0.718},{"model":"Smoothed Newell-Daganzo","r":0.475,"Q":0.695},{"model":"Smoothed Newell-Daganzo","r":0.5,"Q":0.669},{"model":"Smoothed Newell-Daganzo","r":0.525,"Q":0.638},{"model":"Smoothed Newell-Daganzo","r":0.55,"Q":0.606},{"model":"Smoothed Newell-Daganzo","r":0.575,"Q":0.573},{"model":"Smoothed Newell-Daganzo","r":0.6,"Q":0.54},{"model":"Smoothed Newell-Daganzo","r":0.625,"Q":0.507},{"model":"Smoothed Newell-Daganzo","r":0.65,"Q":0.473},{"model":"Smoothed Newell-Daganzo","r":0.7,"Q":0.406},{"model":"Smoothed Newell-Daganzo","r":0.75,"Q":0.339},{"model":"Smoothed Newell-Daganzo","r":0.8,"Q":0.272},{"model":"Smoothed Newell-Daganzo","r":0.85,"Q":0.205},{"model":"Smoothed Newell-Daganzo","r":0.9,"Q":0.137},{"model":"Smoothed Newell-Daganzo","r":0.95,"Q":0.069},{"model":"Smoothed Newell-Daganzo","r":1,"Q":0},
      {"model":"Greenshields","r":0,"Q":0},{"model":"Greenshields","r":0.025,"Q":0.065},{"model":"Greenshields","r":0.05,"Q":0.1267},{"model":"Greenshields","r":0.075,"Q":0.185},{"model":"Greenshields","r":0.1,"Q":0.24},{"model":"Greenshields","r":0.125,"Q":0.2917},{"model":"Greenshields","r":0.15,"Q":0.34},{"model":"Greenshields","r":0.175,"Q":0.385},{"model":"Greenshields","r":0.2,"Q":0.4267},{"model":"Greenshields","r":0.225,"Q":0.465},{"model":"Greenshields","r":0.25,"Q":0.5},{"model":"Greenshields","r":0.275,"Q":0.5317},{"model":"Greenshields","r":0.3,"Q":0.56},{"model":"Greenshields","r":0.325,"Q":0.585},{"model":"Greenshields","r":0.35,"Q":0.6067},{"model":"Greenshields","r":0.375,"Q":0.625},{"model":"Greenshields","r":0.4,"Q":0.64},{"model":"Greenshields","r":0.425,"Q":0.6517},{"model":"Greenshields","r":0.45,"Q":0.66},{"model":"Greenshields","r":0.475,"Q":0.665},{"model":"Greenshields","r":0.5,"Q":0.6667},{"model":"Greenshields","r":0.525,"Q":0.665},{"model":"Greenshields","r":0.55,"Q":0.66},{"model":"Greenshields","r":0.575,"Q":0.6517},{"model":"Greenshields","r":0.6,"Q":0.64},{"model":"Greenshields","r":0.625,"Q":0.625},{"model":"Greenshields","r":0.65,"Q":0.6067},{"model":"Greenshields","r":0.675,"Q":0.585},{"model":"Greenshields","r":0.7,"Q":0.56},{"model":"Greenshields","r":0.725,"Q":0.5317},{"model":"Greenshields","r":0.75,"Q":0.5},{"model":"Greenshields","r":0.775,"Q":0.465},{"model":"Greenshields","r":0.8,"Q":0.4267},{"model":"Greenshields","r":0.825,"Q":0.385},{"model":"Greenshields","r":0.85,"Q":0.34},{"model":"Greenshields","r":0.875,"Q":0.2917},{"model":"Greenshields","r":0.9,"Q":0.24},{"model":"Greenshields","r":0.925,"Q":0.185},{"model":"Greenshields","r":0.95,"Q":0.1267},{"model":"Greenshields","r":0.975,"Q":0.065},{"model":"Greenshields","r":1,"Q":0},
      {"model":"Newell-Daganzo","r":0,"Q":0},{"model":"Newell-Daganzo","r":0.3333,"Q":0.8889},{"model":"Newell-Daganzo","r":1,"Q":0},
      {"model":"Bi-quadratic","r":0,"Q":0},{"model":"Bi-quadratic","r":0.025,"Q":0.0659},{"model":"Bi-quadratic","r":0.05,"Q":0.13},{"model":"Bi-quadratic","r":0.075,"Q":0.1925},{"model":"Bi-quadratic","r":0.1,"Q":0.253},{"model":"Bi-quadratic","r":0.125,"Q":0.3124},{"model":"Bi-quadratic","r":0.15,"Q":0.37},{"model":"Bi-quadratic","r":0.175,"Q":0.4257},{"model":"Bi-quadratic","r":0.2,"Q":0.48},{"model":"Bi-quadratic","r":0.225,"Q":0.532},{"model":"Bi-quadratic","r":0.25,"Q":0.583},{"model":"Bi-quadratic","r":0.275,"Q":0.632},{"model":"Bi-quadratic","r":0.3,"Q":0.679},{"model":"Bi-quadratic","r":0.3333,"Q":0.74},{"model":"Bi-quadratic","r":0.35,"Q":0.727},{"model":"Bi-quadratic","r":0.375,"Q":0.706},{"model":"Bi-quadratic","r":0.4,"Q":0.685},{"model":"Bi-quadratic","r":0.425,"Q":0.663},{"model":"Bi-quadratic","r":0.45,"Q":0.64},{"model":"Bi-quadratic","r":0.475,"Q":0.617},{"model":"Bi-quadratic","r":0.5,"Q":0.594},{"model":"Bi-quadratic","r":0.525,"Q":0.57},{"model":"Bi-quadratic","r":0.55,"Q":0.545},{"model":"Bi-quadratic","r":0.575,"Q":0.5195},{"model":"Bi-quadratic","r":0.6,"Q":0.494},{"model":"Bi-quadratic","r":0.625,"Q":0.467},{"model":"Bi-quadratic","r":0.65,"Q":0.44},{"model":"Bi-quadratic","r":0.675,"Q":0.412},{"model":"Bi-quadratic","r":0.7,"Q":0.384},{"model":"Bi-quadratic","r":0.725,"Q":0.355},{"model":"Bi-quadratic","r":0.75,"Q":0.326},{"model":"Bi-quadratic","r":0.775,"Q":0.296},{"model":"Bi-quadratic","r":0.8,"Q":0.265},{"model":"Bi-quadratic","r":0.825,"Q":0.234},{"model":"Bi-quadratic","r":0.85,"Q":0.203},{"model":"Bi-quadratic","r":0.875,"Q":0.17},{"model":"Bi-quadratic","r":0.9,"Q":0.137},{"model":"Bi-quadratic","r":0.925,"Q":0.104},{"model":"Bi-quadratic","r":0.95,"Q":0.07},{"model":"Bi-quadratic","r":0.975,"Q":0.035},{"model":"Bi-quadratic","r":1,"Q":0}
    ]
  },
  "hconcat": [
    {
      "title": {"text": "(a)", "frame": "bounds", "anchor": "middle", "offset": 29},
      "spacing": 10,
      "resolve": {"scale": {"color": "independent"}, "legend": {"color": "independent"}},
      "vconcat": [
        {
          "width": 491,
          "height": 1,
          "view": {"stroke": null, "fill": null},
          "data": {"values": [{"s": 0}]},
          "mark": {"type": "point", "opacity": 0, "size": 1},
          "encoding": {}
        },
        {
          "width": 491,
          "height": 359,
          "view": {"stroke": "#000000", "strokeWidth": 1, "fill": "white"},
          "layer": [
            {
              "data": {"name": "sensor"},
              "mark": {"type": "point", "filled": true, "size": 12, "opacity": 0.9, "strokeWidth": 0, "clip": true},
              "encoding": {
                "x": {"field": "d", "type": "quantitative", "scale": {"domain": [0, 1], "nice": false, "zero": false},
                  "axis": {"orient": "bottom", "values": [0, 0.2, 0.4, 0.6, 0.8, 1], "format": "~g", "domain": false, "grid": false, "ticks": true, "tickSize": -5, "tickColor": "#000000", "tickWidth": 1, "labelFont": "Liberation Sans", "labelFontSize": 18, "labelColor": "#000000", "labelPadding": 11, "labelFlush": false, "title": "density ρ / ρₘₐₓ", "titleFont": "Liberation Sans", "titleFontSize": 18, "titleFontWeight": "normal", "titleColor": "#000000", "titlePadding": 1}},
                "y": {"field": "q", "type": "quantitative", "scale": {"domain": [0, 0.98], "nice": false, "zero": false},
                  "axis": {"orient": "left", "values": [0, 0.1, 0.2, 0.3, 0.4, 0.5, 0.6, 0.7, 0.8, 0.9], "format": "~g", "domain": false, "grid": false, "ticks": true, "tickSize": -5, "tickColor": "#000000", "tickWidth": 1, "labelFont": "Liberation Sans", "labelFontSize": 18, "labelColor": "#000000", "labelPadding": 12, "labelFlush": false, "title": "flow rate: # vehicles / lane / sec.", "titleFont": "Liberation Sans", "titleFontSize": 18, "titleFontWeight": "normal", "titleColor": "#000000", "titlePadding": 8}},
                "color": {"datum": "sensor data", "type": "nominal", "scale": {"domain": ["sensor data"], "range": ["#2c2c38"]},
                  "legend": {"title": null, "orient": "top-right", "offset": 7, "padding": 4, "rowPadding": 0, "strokeColor": "#000000", "fillColor": "#ffffff", "cornerRadius": 0, "symbolType": "M-1,0L1.74,0M1.93,0L1.874,0.134L1.74,0.19L1.606,0.134L1.55,0L1.606,-0.134L1.74,-0.19L1.874,-0.134Z", "symbolSize": 361, "symbolStrokeWidth": 0, "labelFont": "Liberation Sans", "labelFontSize": 18, "labelColor": "#000000", "labelOffset": 37, "labelLimit": 400}}
              }
            },
            {
              "data": {"values": [{"d": 0, "q": 0}]},
              "mark": {"type": "point", "opacity": 0},
              "encoding": {
                "x": {"field": "d", "type": "quantitative", "axis": {"orient": "top", "values": [0.2, 0.4, 0.6, 0.8], "labels": false, "domain": false, "grid": false, "tickSize": -5, "tickColor": "#000000", "tickWidth": 1, "title": null}},
                "y": {"field": "q", "type": "quantitative", "axis": {"orient": "right", "values": [0.1, 0.2, 0.3, 0.4, 0.5, 0.6, 0.7, 0.8, 0.9], "labels": false, "domain": false, "grid": false, "tickSize": -5, "tickColor": "#000000", "tickWidth": 1, "title": null}}
              }
            }
          ],
          "resolve": {"axis": {"x": "independent", "y": "independent"}}
        }
      ]
    },
    {
      "title": {"text": "(b)", "frame": "bounds", "anchor": "middle", "offset": 29},
      "width": 526,
      "height": 366,
      "view": {"fill": "#eeeeee", "stroke": "#bcbcbc", "strokeWidth": 1},
      "data": {"name": "curves"},
      "mark": {"type": "line", "strokeWidth": 2, "clip": true},
      "encoding": {
        "x": {"field": "r", "type": "quantitative", "scale": {"domain": [-0.05, 1.05], "nice": false, "zero": false},
          "axis": {"values": [0, 0.2, 0.4, 0.6, 0.8, 1], "format": ".1f", "grid": true, "gridColor": "#b2b2b2", "gridDash": [2, 2], "gridWidth": 0.8, "domain": false, "tickSize": 4, "tickColor": "#555555", "tickWidth": 1, "labelFont": "DejaVu Sans", "labelFontSize": 18.5, "labelColor": "#000000", "labelPadding": 3, "labelFlush": false, "title": "ρ/ρₘₐₓ", "titleFont": "DejaVu Serif", "titleFontSize": 22, "titleFontStyle": "italic", "titleFontWeight": "normal", "titleColor": "#000000", "titlePadding": 8}},
        "y": {"field": "Q", "type": "quantitative", "scale": {"domain": [-0.0445, 0.9334], "nice": false, "zero": false},
          "axis": {"values": [0, 0.2, 0.4, 0.6, 0.8], "format": ".1f", "grid": true, "gridColor": "#b2b2b2", "gridDash": [2, 2], "gridWidth": 0.8, "domain": false, "tickSize": 4, "tickColor": "#555555", "tickWidth": 1, "labelFont": "DejaVu Sans", "labelFontSize": 18.5, "labelColor": "#000000", "labelPadding": 4, "labelFlush": false, "title": "Q", "titleFont": "DejaVu Serif", "titleFontSize": 24, "titleFontStyle": "italic", "titleFontWeight": "normal", "titleColor": "#000000", "titlePadding": 10}},
        "color": {"field": "model", "type": "nominal", "sort": ["Smoothed Newell-Daganzo", "Greenshields", "Newell-Daganzo", "Bi-quadratic"],
          "scale": {"domain": ["Smoothed Newell-Daganzo", "Greenshields", "Newell-Daganzo", "Bi-quadratic"], "range": ["#348ABD", "#A60628", "#7A68A6", "#467821"]},
          "legend": {"title": null, "orient": "bottom-left", "offset": 11, "padding": 5, "fillColor": "rgba(238,238,238,0.8)", "strokeColor": "#cccccc", "cornerRadius": 4, "symbolType": "M-1.08,0L1.08,0", "symbolSize": 1714, "symbolStrokeWidth": 2, "labelFont": "DejaVu Sans", "labelFontSize": 21, "labelColor": "#000000", "labelOffset": 20, "labelLimit": 400, "rowPadding": 0}},
        "strokeDash": {"field": "model", "type": "nominal", "sort": ["Smoothed Newell-Daganzo", "Greenshields", "Newell-Daganzo", "Bi-quadratic"],
          "scale": {"domain": ["Smoothed Newell-Daganzo", "Greenshields", "Newell-Daganzo", "Bi-quadratic"], "range": [[1, 0], [1, 0], [1, 0], [7.4, 3.2]]},
          "legend": {"title": null, "orient": "bottom-left", "offset": 11, "padding": 5, "fillColor": "rgba(238,238,238,0.8)", "strokeColor": "#cccccc", "cornerRadius": 4, "symbolType": "M-1.08,0L1.08,0", "symbolSize": 1714, "symbolStrokeWidth": 2, "labelFont": "DejaVu Sans", "labelFontSize": 21, "labelColor": "#000000", "labelOffset": 20, "labelLimit": 400, "rowPadding": 0}}
      }
    }
  ]
}
